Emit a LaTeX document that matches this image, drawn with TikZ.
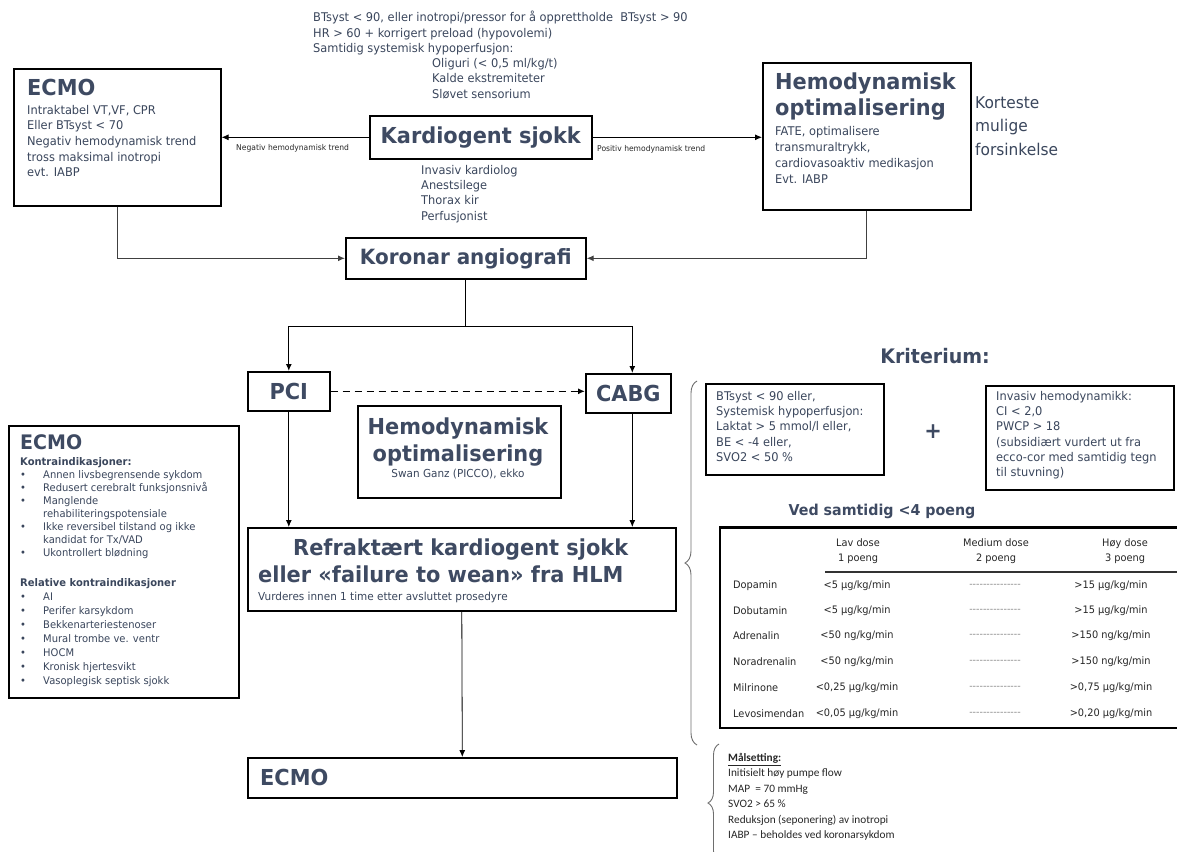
\documentclass[tikz,border=0pt]{standalone}
\usepackage{fontspec}
\setmainfont[FakeStretch=0.95]{DejaVu Sans}
\newfontfamily\calib{Carlito}
\usetikzlibrary{arrows.meta,decorations.pathreplacing}
\definecolor{hd}{RGB}{62,74,98}
\definecolor{tx}{RGB}{58,70,92}
\definecolor{br}{RGB}{110,110,110}
\newcommand{\fsz}[2]{\fontsize{#1}{#2}\selectfont}
\newcommand{\bul}{\makebox[23pt][l]{•}}
\newcommand{\dsh}{-{}-{}-{}-{}-{}-{}-{}-{}-{}-{}-{}-{}-{}-{}-}
\tikzset{
  box/.style={draw=black, line width=1.6pt, fill=white, inner sep=0pt, anchor=north west},
  txt/.style={inner sep=0pt, anchor=north west, align=left, text=tx, font=\fsz{12}{15.6}},
  head/.style={inner sep=0pt, text=hd, font=\bfseries\fsz{22}{26}},
  small/.style={inner sep=0pt, text=tx, font=\fsz{10.5}{13}},
  arr/.style={-{Latex[length=7pt,width=6pt]}, line width=0.8pt, draw=black},
  conn/.style={line width=1.2pt, draw=black!75},
  brc/.style={decorate, decoration={brace, amplitude=12pt}, draw=br, line width=0.9pt},
}
\begin{document}
\begin{tikzpicture}[x=1pt,y=-1pt]
\useasboundingbox (0,0) rectangle (1177,851);

% top text
\node[txt] (toptext) at (313,11) {BTsyst < 90, eller inotropi/pressor for å opprettholde\ \ BTsyst > 90\\HR > 60 + korrigert preload (hypovolemi)\\Samtidig systemisk hypoperfusjon:};
\node[txt] (toptext2) at (432,58) {Oliguri (< 0,5 ml/kg/t)\\Kalde ekstremiteter\\Sløvet sensorium};

% ECMO top-left
\node[box, minimum width=207pt, minimum height=137pt] (ecmoA) at (13,68) {};
\node[head, anchor=north west] (ecmoAt) at (27,79) {ECMO};
\node[txt] (ecmoAb) at (27,105) {Intraktabel VT,VF, CPR\\Eller BTsyst < 70\\Negativ hemodynamisk trend\\tross maksimal inotropi\\evt. IABP};

% Kardiogent sjokk
\node[box, minimum width=222pt, minimum height=43pt] (ks) at (369,115) {};
\node[head] (kst) at (ks.center) {Kardiogent sjokk};

% Hemodynamisk optimalisering top-right
\node[box, minimum width=208pt, minimum height=147pt] (hoA) at (762,62) {};
\node[head, anchor=north west, align=left] (hoAt) at (775,73) {Hemodynamisk\\optimalisering};
\node[txt, font=\fsz{12}{15.9}] (hoAb) at (775,126) {FATE, optimalisere\\transmuraltrykk,\\cardiovasoaktiv medikasjon\\Evt. IABP};
\node[txt, font=\fsz{16.2}{23.5}] (kort) at (975,96) {Korteste\\mulige\\forsinkelse};

% arrows from Kardiogent sjokk
\draw[arr] (ks.west) -- (ks.west -| ecmoA.east);
\node[inner sep=0pt, anchor=north west, font=\fsz{8}{9}, text=black!85] (neglab) at (236,144) {Negativ hemodynamisk trend};
\draw[arr] (ks.east) -- (ks.east -| hoA.west);
\node[inner sep=0pt, anchor=north west, font=\fsz{8}{9}, text=black!85] (poslab) at (597,145) {Positiv hemodynamisk trend};

% team
\node[txt, font=\fsz{12}{15.3}] (team) at (421,165) {Invasiv kardiolog\\Anestsilege\\Thorax kir\\Perfusjonist};

% Koronar angiografi
\node[box, minimum width=240pt, minimum height=41pt] (ka) at (345,237) {};
\node[head, font=\bfseries\fsz{21}{25}] (kat) at (ka.center) {Koronar angiografi};
\draw[conn, -{Latex[length=7pt,width=6pt]}] (ecmoA.south) |- (ka.west);
\draw[conn, -{Latex[length=7pt,width=6pt]}] (hoA.south) |- (ka.east);

% PCI / CABG
\node[box, minimum width=82pt, minimum height=39pt] (pci) at (247,371) {};
\node[head] (pcit) at (pci.center) {PCI};
\node[box, minimum width=85pt, minimum height=39pt] (cabg) at (585,373) {};
\node[head] (cabgt) at (cabg.center) {CABG};
\draw[conn, draw=black] (ka.south) -- ++(0,47) coordinate (split);
\draw[conn, draw=black, -{Latex[length=7pt,width=6pt]}] (split) -| (pci.north);
\draw[conn, draw=black, -{Latex[length=7pt,width=6pt]}] (split) -| ([xshift=4pt]cabg.north);
\draw[arr, line width=1.4pt, dash pattern=on 7pt off 5pt] (pci.east) -- (pci.east -| cabg.west);

% Hemodynamisk optimalisering middle
\node[box, minimum width=203pt, minimum height=92pt] (hoB) at (357,405) {};
\node[head, align=center, font=\bfseries\fsz{22}{27}] (hoBt) at (458,442) {Hemodynamisk\\optimalisering};
\node[small, font=\fsz{11}{13}] (hoBb) at (458,474) {Swan Ganz (PICCO), ekko};

% Refraktaert
\node[box, minimum width=428pt, minimum height=83pt] (ref) at (247,527) {};
\node[head, anchor=north west, align=left, font=\bfseries\fsz{22}{27}] (reft) at (258,539) {\hspace*{35pt}Refraktært kardiogent sjokk\\eller\ «failure to wean»\ fra HLM};
\node[small, anchor=west, font=\fsz{11}{13}] (refb) at (258,597) {Vurderes innen 1 time etter avsluttet prosedyre};
\draw[arr] (pci.south) -- (pci.south |- ref.north);
\draw[arr] ([xshift=4pt]cabg.south) -- ([xshift=4pt]cabg.south |- ref.north);

% ECMO bottom
\node[box, minimum width=429pt, minimum height=40pt] (ecmoB) at (247,757) {};
\node[head, anchor=west] (ecmoBt) at (260,777) {ECMO};
\draw[arr] (ref.south) -- (ecmoB.north);

% ECMO left
\node[box, minimum width=230pt, minimum height=272pt] (ecmoC) at (8,425) {};
\node[head, anchor=north west, font=\bfseries\fsz{20}{24}] (ecmoCt) at (20,434) {ECMO};
\node[small, anchor=north west, align=left] (ecmoCk) at (20,457) {\textbf{Kontraindikasjoner:}\\
\bul Annen livsbegrensende sykdom\\
\bul Redusert cerebralt funksjonsnivå\\
\bul Manglende\\
\hspace*{23pt}rehabiliteringspotensiale\\
\bul Ikke reversibel tilstand og ikke\\
\hspace*{23pt}kandidat for Tx/VAD\\
\bul Ukontrollert blødning};
\node[small, anchor=north west, align=left, font=\fsz{10.5}{14}] (ecmoCr) at (20,578) {\textbf{Relative kontraindikasjoner}\\
\bul AI\\
\bul Perifer karsykdom\\
\bul Bekkenarteriestenoser\\
\bul Mural trombe ve. ventr\\
\bul HOCM\\
\bul Kronisk hjertesvikt\\
\bul Vasoplegisk septisk sjokk};

% Kriterium
\node[head, font=\bfseries\fsz{20}{24}] (krit) at (935,356) {Kriterium:};
\node[box, minimum width=178pt, minimum height=91pt] (k1) at (705,383) {};
\node[txt, font=\fsz{12}{15.3}] (k1t) at (716,391) {BTsyst < 90 eller,\\Systemisk hypoperfusjon:\\Laktat > 5 mmol/l eller,\\BE < -4 eller,\\SVO2 < 50 \%};
\node[head, font=\bfseries\fsz{22}{24}] (plus) at (933,432) {+};
\node[box, minimum width=188pt, minimum height=104pt] (k2) at (985,385) {};
\node[txt, font=\fsz{12}{15.3}] (k2t) at (996,391) {Invasiv hemodynamikk:\\CI < 2,0\\PWCP > 18\\(subsidiært vurdert ut fra\\ecco-cor med samtidig tegn\\til stuvning)};

% table
\node[head, font=\bfseries\fsz{15}{20}] (ved) at (882,511) {Ved samtidig <4 poeng};
\node[box, minimum width=470pt, minimum height=200pt, line width=1.5pt] (tab) at (719,527) {};
\draw[line width=3pt] (tab.north west) -- (tab.north east);
\coordinate (hl) at (825,572);
\draw[line width=1.5pt, draw=black!80] (hl) -- (hl -| tab.east);
\tikzset{tc/.style={inner sep=0pt, text=black!85, font=\fsz{10.3}{15}, align=center}}
\node[tc] (h1) at (858,551) {Lav dose\\1 poeng};
\node[tc] (h2) at (996,551) {Medium dose\\2 poeng};
\node[tc] (h3) at (1125,551) {Høy dose\\3 poeng};
\tikzset{tl/.style={inner sep=0pt, text=black!85, font=\fsz{10.3}{12}, anchor=west}}
\foreach \y/\n/\a/\b/\i in {586/Dopamin/{<5 µg/kg/min}/{>15 µg/kg/min}/1,
611/Dobutamin/{<5 µg/kg/min}/{>15 µg/kg/min}/2,
636/Adrenalin/{<50 ng/kg/min}/{>150 ng/kg/min}/3,
662/Noradrenalin/{<50 ng/kg/min}/{>150 ng/kg/min}/4,
688/Milrinone/{<0,25 µg/kg/min}/{>0,75 µg/kg/min}/5,
714/Levosimendan/{<0,05 µg/kg/min}/{>0,20 µg/kg/min}/6}{
  \node[tl] (rl\i) at (733,\y) {\n};
  \node[tc] (ra\i) at (857,\y) {\a};
  \node[tc, text=black!45, font=\fsz{10}{10}] (rb\i) at (995,\y) {\dsh};
  \node[tc] (rc\i) at (1111,\y) {\b};
}

% braces
\coordinate (b1s) at (697,745);
\coordinate (b1e) at (697,381);
\draw[brc] (b1s) -- (b1e);
\coordinate (b2s) at (719,862);
\coordinate (b2e) at (719,744);
\draw[brc, decoration={brace, amplitude=11pt}] (b2s) -- (b2e);

% Maalsetting
\node[inner sep=0pt, anchor=north west, align=left, text=black!85, font=\calib\fsz{11.3}{15.4}] (maal) at (728,753) {\textbf{\underline{Målsetting:}}\\Initisielt høy pumpe flow\\MAP\ \ = 70 mmHg\\SVO2 > 65 \%\\Reduksjon (seponering) av inotropi\\IABP – beholdes ved koronarsykdom};
\end{tikzpicture}
\end{document}
